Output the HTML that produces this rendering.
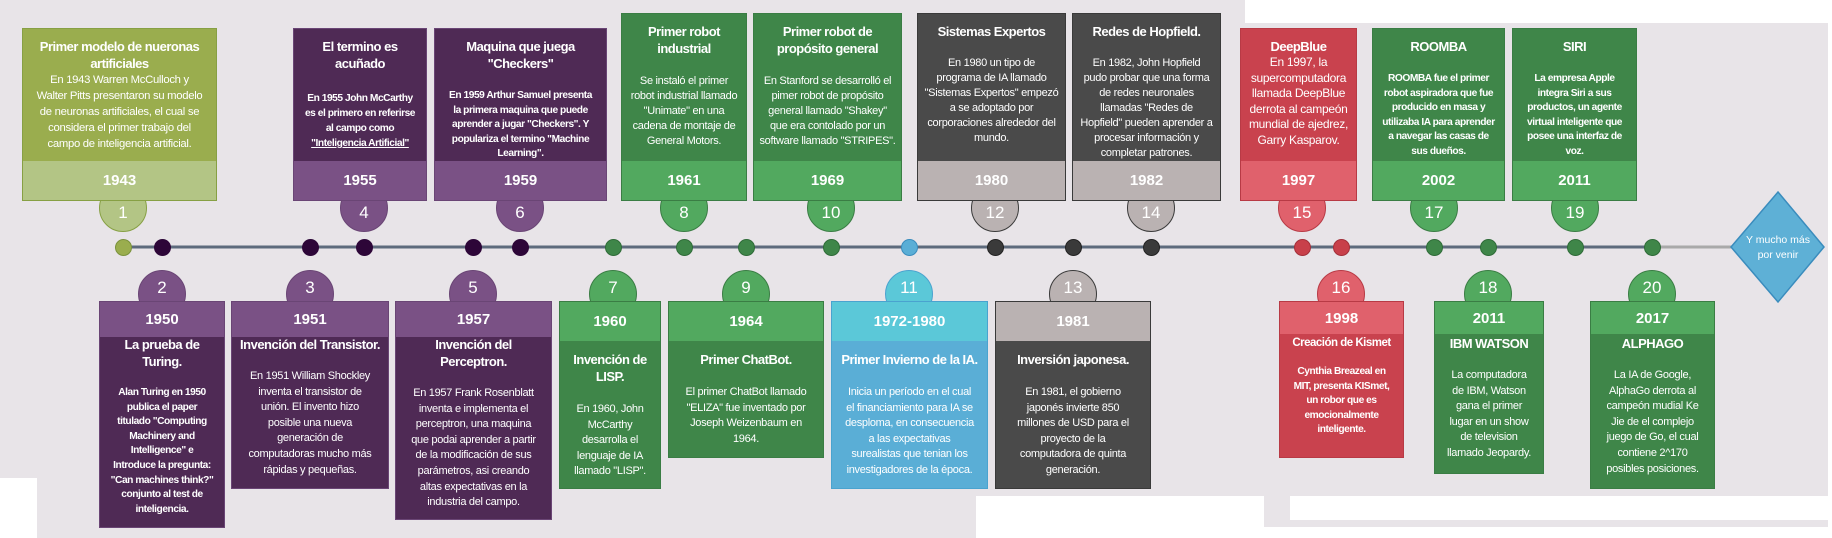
<!DOCTYPE html>
<html><head><meta charset="utf-8"><style>
*{box-sizing:border-box;margin:0;padding:0}
body{width:1832px;height:538px;position:relative;overflow:hidden;background:#fff;font-family:"Liberation Sans",sans-serif;color:#fff}
.bg{position:absolute;background:#e8e4e8}
.wh{position:absolute;background:#fff}
.box{position:absolute;border:1.5px solid var(--bd);background:var(--b);text-align:center;white-space:nowrap;letter-spacing:-0.3px;z-index:3;overflow:hidden}
.band{position:absolute;left:0;right:0;background:var(--y);font-weight:bold;font-size:15px;display:flex;align-items:center;justify-content:center;letter-spacing:0}
.top .band{bottom:0;height:39px}
.bot .band{top:0;height:35px}
.t{font-weight:bold;font-size:13px;line-height:17px;letter-spacing:-0.5px}
.d{font-size:11px;line-height:15px}
.db{font-weight:bold;font-size:10.2px;letter-spacing:-0.45px}
.circ{position:absolute;width:48px;height:48px;border-radius:50%;background:var(--y);border:1.5px solid var(--bd);z-index:2;font-size:17px;display:flex;align-items:center;justify-content:center}
.top-c{top:184px;padding-top:10px}
.bot-c{top:270px;padding-bottom:12px}
.dot{position:absolute;top:239px;width:17px;height:17px;border-radius:50%;background:var(--dt);border:1.5px solid var(--db);z-index:2}
.olive{--b:#9aad4e;--y:#b3c585;--bd:#87a044;--dt:#9aad4e;--db:#7a923c}
.purple{--b:#4f2a55;--y:#7a5185;--bd:#6a4575;--dt:#2d0638;--db:#2d0638}
.green{--b:#3f8649;--y:#52a95f;--bd:#3a7d44;--dt:#3f8649;--db:#2f6b38}
.gray{--b:#4a4a4a;--y:#bab2b2;--bd:#3a3a3a;--dt:#3a3a3a;--db:#222}
.cyan{--b:#5aaed6;--y:#5bc8d8;--bd:#4aa3cf;--dt:#5aaed6;--db:#3a8cbd}
.red{--b:#c9424e;--y:#e0616c;--bd:#b83a45;--dt:#c8404a;--db:#a3303a}
</style></head><body>
<div class="bg" style="left:0;top:23px;width:1828px;height:473px"></div>
<div class="bg" style="left:0;top:0;width:1245px;height:23px"></div>
<div class="bg" style="left:37px;top:496px;width:939px;height:42px"></div>
<div class="bg" style="left:1264px;top:496px;width:564px;height:31px"></div>
<div class="wh" style="left:0;top:478px;width:37px;height:60px"></div>
<div class="wh" style="left:1290px;top:496px;width:542px;height:24px"></div>

<svg style="position:absolute;left:0;top:0;z-index:1" width="1832" height="538">
<line x1="123" y1="247" x2="1660" y2="247" stroke="#5d6a7c" stroke-width="3"/>
<line x1="1660" y1="247" x2="1735" y2="247" stroke="#a9a9a9" stroke-width="3"/>
<polygon points="1778,192 1824,247 1778,302 1731,247" fill="#5eb0d6" stroke="#3a8cbd" stroke-width="1.5"/>
<text x="1778" y="243" font-size="10.5" fill="#fff" text-anchor="middle" font-family="Liberation Sans, sans-serif">Y mucho más</text>
<text x="1778" y="258" font-size="10.5" fill="#fff" text-anchor="middle" font-family="Liberation Sans, sans-serif">por venir</text>
</svg>

<div class="dot olive" style="left:115px"></div>
<div class="dot purple" style="left:154px"></div>
<div class="dot purple" style="left:302px"></div>
<div class="dot purple" style="left:356px"></div>
<div class="dot purple" style="left:465px"></div>
<div class="dot purple" style="left:512px"></div>
<div class="dot green" style="left:605px"></div>
<div class="dot green" style="left:676px"></div>
<div class="dot green" style="left:738px"></div>
<div class="dot green" style="left:823px"></div>
<div class="dot cyan" style="left:901px"></div>
<div class="dot gray" style="left:987px"></div>
<div class="dot gray" style="left:1065px"></div>
<div class="dot gray" style="left:1143px"></div>
<div class="dot red" style="left:1294px"></div>
<div class="dot red" style="left:1333px"></div>
<div class="dot green" style="left:1426px"></div>
<div class="dot green" style="left:1480px"></div>
<div class="dot green" style="left:1567px"></div>
<div class="dot green" style="left:1644px"></div>

<div class="circ top-c olive" style="left:99px">1</div>
<div class="circ bot-c purple" style="left:138px">2</div>
<div class="circ bot-c purple" style="left:286px">3</div>
<div class="circ top-c purple" style="left:340px">4</div>
<div class="circ bot-c purple" style="left:449px">5</div>
<div class="circ top-c purple" style="left:496px">6</div>
<div class="circ bot-c green" style="left:589px">7</div>
<div class="circ top-c green" style="left:660px">8</div>
<div class="circ bot-c green" style="left:722px">9</div>
<div class="circ top-c green" style="left:807px">10</div>
<div class="circ bot-c cyan" style="left:885px">11</div>
<div class="circ top-c gray" style="left:971px">12</div>
<div class="circ bot-c gray" style="left:1049px">13</div>
<div class="circ top-c gray" style="left:1127px">14</div>
<div class="circ top-c red" style="left:1278px">15</div>
<div class="circ bot-c red" style="left:1317px">16</div>
<div class="circ top-c green" style="left:1410px">17</div>
<div class="circ bot-c green" style="left:1464px">18</div>
<div class="circ top-c green" style="left:1551px">19</div>
<div class="circ bot-c green" style="left:1628px">20</div>

<div class="box top olive" style="left:22px;top:28px;width:195px;height:173px;padding-top:9px">
<div class="t">Primer modelo de nueronas<br>artificiales</div>
<div class="d" style="font-size:11.3px;line-height:16px">En 1943 Warren McCulloch y<br>Walter Pitts presentaron su modelo<br>de neuronas artificiales, el cual se<br>considera el primer trabajo del<br>campo de inteligencia artificial.</div>
<div class="band">1943</div></div>

<div class="box top purple" style="left:293px;top:28px;width:134px;height:173px;padding-top:9px">
<div class="t">El termino es<br>acuñado</div>
<div class="d db" style="margin-top:19px">En 1955 John McCarthy<br>es el primero en referirse<br>al campo como<br><u>"Inteligencia Artificial"</u></div>
<div class="band">1955</div></div>

<div class="box top purple" style="left:434px;top:28px;width:173px;height:173px;padding-top:9px">
<div class="t">Maquina que juega<br>"Checkers"</div>
<div class="d db" style="margin-top:17px;line-height:14.5px">En 1959 Arthur Samuel presenta<br>la primera maquina que puede<br>aprender a jugar "Checkers". Y<br>populariza el termino "Machine<br>Learning".</div>
<div class="band">1959</div></div>

<div class="box top green" style="left:621px;top:13px;width:126px;height:188px;padding-top:9px">
<div class="t">Primer robot<br>industrial</div>
<div class="d" style="margin-top:17px">Se instaló el primer<br>robot industrial llamado<br>"Unimate" en una<br>cadena de montaje de<br>General Motors.</div>
<div class="band">1961</div></div>

<div class="box top green" style="left:753px;top:13px;width:149px;height:188px;padding-top:9px">
<div class="t">Primer robot de<br>propósito general</div>
<div class="d" style="margin-top:17px">En Stanford se desarrolló el<br>pimer robot de propósito<br>general llamado "Shakey"<br>que era contolado por un<br>software llamado "STRIPES".</div>
<div class="band">1969</div></div>

<div class="box top gray" style="left:917px;top:13px;width:149px;height:188px;padding-top:9px">
<div class="t">Sistemas Expertos</div>
<div class="d" style="margin-top:16px">En 1980 un tipo de<br>programa de IA llamado<br>"Sistemas Expertos" empezó<br>a se adoptado por<br>corporaciones alrededor del<br>mundo.</div>
<div class="band">1980</div></div>

<div class="box top gray" style="left:1072px;top:13px;width:149px;height:188px;padding-top:9px">
<div class="t">Redes de Hopfield.</div>
<div class="d" style="margin-top:16px">En 1982, John Hopfield<br>pudo probar que una forma<br>de redes neuronales<br>llamadas "Redes de<br>Hopfield" pueden aprender a<br>procesar información y<br>completar patrones.</div>
<div class="band">1982</div></div>

<div class="box top red" style="left:1240px;top:28px;width:117px;height:173px;padding-top:9px">
<div class="t">DeepBlue</div>
<div class="d" style="font-size:12px;line-height:15.5px">En 1997, la<br>supercomputadora<br>llamada DeepBlue<br>derrota al campeón<br>mundial de ajedrez,<br>Garry Kasparov.</div>
<div class="band">1997</div></div>

<div class="box top green" style="left:1372px;top:28px;width:133px;height:173px;padding-top:9px">
<div class="t">ROOMBA</div>
<div class="d db" style="margin-top:17px;line-height:14.5px">ROOMBA fue el primer<br>robot aspiradora que fue<br>producido en masa y<br>utilizaba IA para aprender<br>a navegar las casas de<br>sus dueños.</div>
<div class="band">2002</div></div>

<div class="box top green" style="left:1512px;top:28px;width:125px;height:173px;padding-top:9px">
<div class="t">SIRI</div>
<div class="d db" style="margin-top:17px;line-height:14.5px">La empresa Apple<br>integra Siri a sus<br>productos, un agente<br>virtual inteligente que<br>posee una interfaz de<br>voz.</div>
<div class="band">2011</div></div>

<div class="box bot purple" style="left:99px;top:301px;width:126px;height:227px;padding-top:34px">
<div class="band">1950</div>
<div class="t">La prueba de<br>Turing.</div>
<div class="d db" style="margin-top:16px;line-height:14.6px">Alan Turing en 1950<br>publica el paper<br>titulado "Computing<br>Machinery and<br>Intelligence" e<br>Introduce la pregunta:<br>"Can machines think?"<br>conjunto al test de<br>inteligencia.</div></div>

<div class="box bot purple" style="left:231px;top:301px;width:158px;height:188px;padding-top:34px">
<div class="band">1951</div>
<div class="t">Invención del Transistor.</div>
<div class="d" style="margin-top:16px;line-height:15.6px">En 1951 William Shockley<br>inventa el transistor de<br>unión. El invento hizo<br>posible una nueva<br>generación de<br>computadoras mucho más<br>rápidas y pequeñas.</div></div>

<div class="box bot purple" style="left:395px;top:301px;width:157px;height:219px;padding-top:34px">
<div class="band">1957</div>
<div class="t">Invención del<br>Perceptron.</div>
<div class="d" style="margin-top:16px;line-height:15.6px">En 1957 Frank Rosenblatt<br>inventa e implementa el<br>perceptron, una maquina<br>que podai aprender a partir<br>de la modificación de sus<br>parámetros, asi creando<br>altas expectativas en la<br>industria del campo.</div></div>

<div class="box bot green" style="left:559px;top:301px;width:102px;height:188px;padding-top:49px">
<div class="band" style="height:39px">1960</div>
<div class="t">Invención de<br>LISP.</div>
<div class="d" style="margin-top:17px;line-height:15.6px">En 1960, John<br>McCarthy<br>desarrolla el<br>lenguaje de IA<br>llamado "LISP".</div></div>

<div class="box bot green" style="left:668px;top:301px;width:156px;height:157px;padding-top:49px">
<div class="band" style="height:39px">1964</div>
<div class="t">Primer ChatBot.</div>
<div class="d" style="margin-top:17px;line-height:15.6px">El primer ChatBot llamado<br>"ELIZA" fue inventado por<br>Joseph Weizenbaum en<br>1964.</div></div>

<div class="box bot cyan" style="left:831px;top:301px;width:157px;height:188px;padding-top:49px">
<div class="band" style="height:39px">1972-1980</div>
<div class="t">Primer Invierno de la IA.</div>
<div class="d" style="margin-top:17px;line-height:15.6px">Inicia un período en el cual<br>el financiamiento para IA se<br>desploma, en consecuencia<br>a las expectativas<br>surealistas que tenian los<br>investigadores de la época.</div></div>

<div class="box bot gray" style="left:995px;top:301px;width:156px;height:188px;padding-top:49px">
<div class="band" style="height:39px">1981</div>
<div class="t">Inversión japonesa.</div>
<div class="d" style="margin-top:17px;line-height:15.6px">En 1981, el gobierno<br>japonés invierte 850<br>millones de USD para el<br>proyecto de la<br>computadora de quinta<br>generación.</div></div>

<div class="box bot red" style="left:1279px;top:301px;width:125px;height:157px;padding-top:33px">
<div class="band" style="height:32px">1998</div>
<div class="t" style="font-size:11.5px">Creación de Kismet</div>
<div class="d db" style="margin-top:13px;line-height:14.5px">Cynthia Breazeal en<br>MIT, presenta KISmet,<br>un robor que es<br>emocionalmente<br>inteligente.</div></div>

<div class="box bot green" style="left:1434px;top:301px;width:110px;height:173px;padding-top:33px">
<div class="band" style="height:32px">2011</div>
<div class="t">IBM WATSON</div>
<div class="d" style="margin-top:16px;line-height:15.6px">La computadora<br>de IBM, Watson<br>gana el primer<br>lugar en un show<br>de television<br>llamado Jeopardy.</div></div>

<div class="box bot green" style="left:1590px;top:301px;width:125px;height:188px;padding-top:33px">
<div class="band" style="height:32px">2017</div>
<div class="t">ALPHAGO</div>
<div class="d" style="margin-top:16px;line-height:15.6px">La IA de Google,<br>AlphaGo derrota al<br>campeón mudial Ke<br>Jie de el complejo<br>juego de Go, el cual<br>contiene 2^170<br>posibles posiciones.</div></div>
</body></html>
